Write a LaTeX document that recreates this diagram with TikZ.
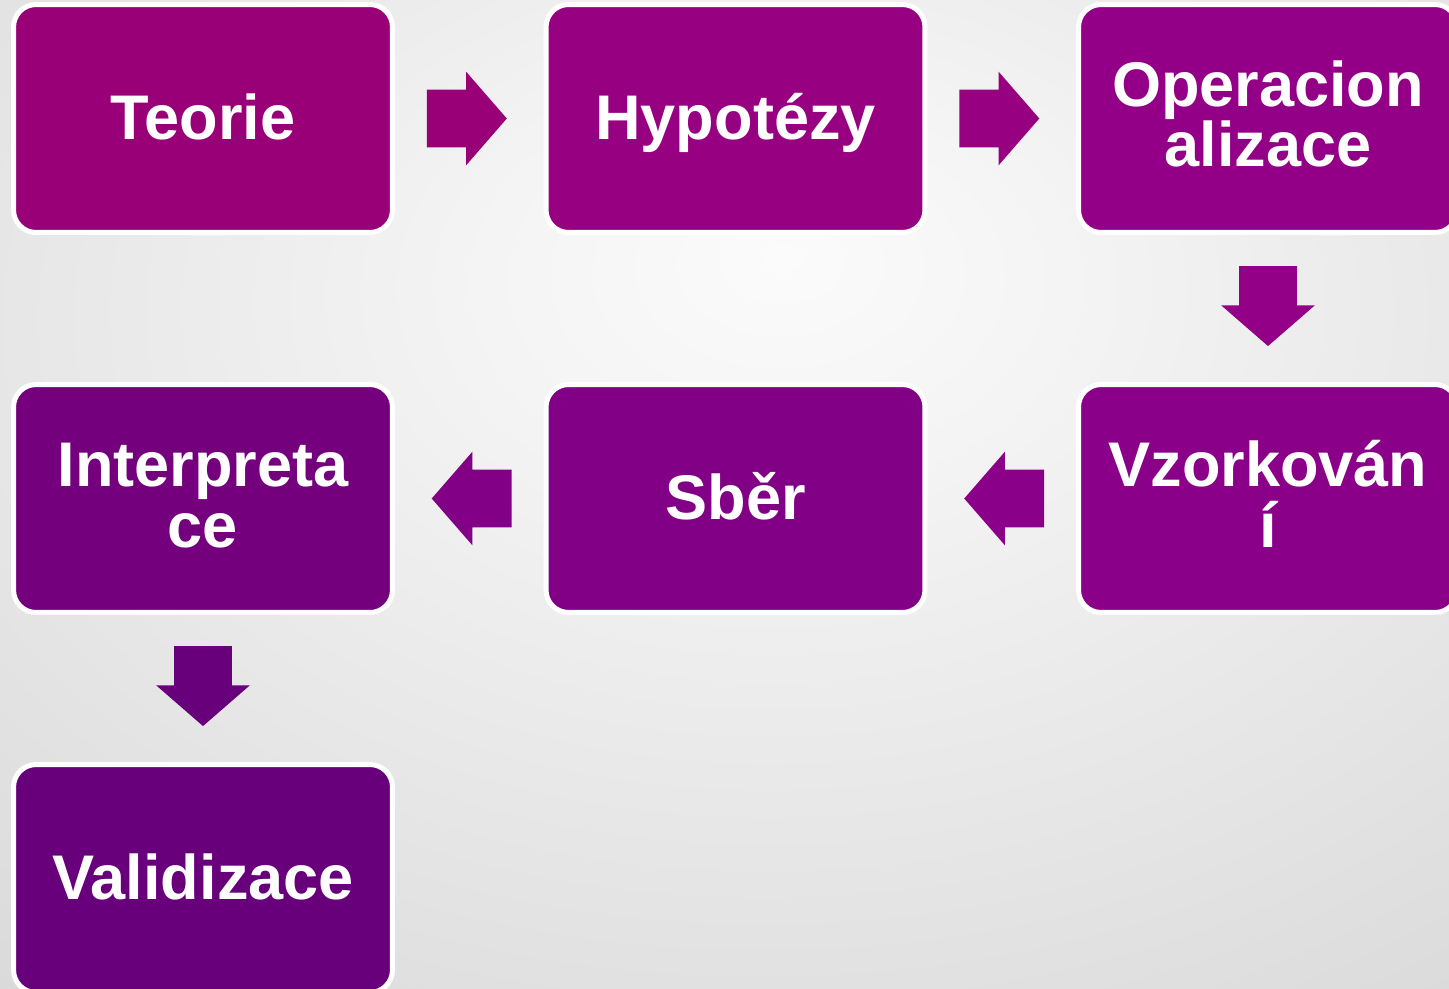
\documentclass[tikz,border=0pt]{standalone}
\usepackage{fontspec}
\setmainfont{Liberation Sans}
\usetikzlibrary{shapes.arrows,calc}

\definecolor{teoriecol}{HTML}{990077}
\definecolor{hypocol}{HTML}{970080}
\definecolor{opercol}{HTML}{930087}
\definecolor{vzorcol}{HTML}{8B0088}
\definecolor{sbercol}{HTML}{820086}
\definecolor{intercol}{HTML}{74007E}
\definecolor{validcol}{HTML}{67007A}

\definecolor{bgA}{HTML}{FBFBFB}
\definecolor{bgB}{HTML}{F4F4F4}
\definecolor{bgC}{HTML}{E6E6E6}
\definecolor{bgD}{HTML}{DBDBDB}
\definecolor{bgE}{HTML}{D2D2D2}
\definecolor{bgF}{HTML}{CBCBCB}
\definecolor{bgG}{HTML}{C5C5C5}
\pgfdeclareradialshading{backshade}{\pgfpoint{2bp}{12bp}}{color(0bp)=(bgA); color(10bp)=(bgB); color(27bp)=(bgC); color(40bp)=(bgD); color(52bp)=(bgE); color(65bp)=(bgF); color(80bp)=(bgG); color(95bp)=(bgG)}

\tikzset{
  box/.style={draw=white, line width=0.1cm, rounded corners=0.45cm,
    minimum width=7.58cm, minimum height=4.56cm, inner sep=0pt,
    text=white, align=center, font=\bfseries\fontsize{35.9}{34.7}\selectfont},
  oneline/.style={text height=0.84cm, text depth=0cm},
  twoline/.style={text height=1.94cm, text depth=0cm},
  arr/.style={single arrow, draw=none, inner xsep=0pt, inner ysep=0.57cm,
    minimum height=1.6cm, minimum width=1.86cm, anchor=tip,
    single arrow head extend=0.36cm, single arrow tip angle=98},
  downarr/.style={arr, inner xsep=0.57cm, inner ysep=0pt, shape border rotate=270},
  leftarr/.style={arr, shape border rotate=180}
}

\begin{document}
\begin{tikzpicture}[x=0.02cm, y=-0.02cm]

  \useasboundingbox (0,0) rectangle (1449,988);
  \clip (0,0) rectangle (1449,988);
  \shade[shading=backshade] (0,0) rectangle (1449,988);

  \node[box, oneline, fill=teoriecol] (teorie)           at (203,118.5)  {Teorie};
  \node[box, oneline, fill=hypocol]   (hypotezy)         at (735.5,118.5) {Hypotézy};
  \node[box, twoline, fill=opercol]   (operacionalizace) at (1268,118.5) {Operacion\\alizace};
  \node[box, twoline, fill=vzorcol]   (vzorkovani)       at (1268,498.5) {Vzorkován\\í};
  \node[box, oneline, fill=sbercol]   (sber)             at (735.5,498.5) {Sběr};
  \node[box, twoline, fill=intercol]  (interpretace)     at (203,498.5)  {Interpreta\\ce};
  \node[box, oneline, fill=validcol]  (validizace)       at (203,878.5)  {Validizace};

  % Arrows
  \node[arr, fill=teoriecol] (teorie-hypo) at ($(teorie.east)!0.5!(hypotezy.west)+(38,0)$) {};
  \node[arr, fill=hypocol]   (hypo-oper)   at ($(hypotezy.east)!0.5!(operacionalizace.west)+(38,0)$) {};
  \node[downarr, fill=opercol]  (oper-vzor)   at ($(operacionalizace.south)!0.5!(vzorkovani.north)+(0,38)$) {};
  \node[leftarr, fill=vzorcol]  (vzor-sber)   at ($(vzorkovani.west)!0.5!(sber.east)+(-38,0)$) {};
  \node[leftarr, fill=sbercol]  (sber-inter)  at ($(sber.west)!0.5!(interpretace.east)+(-38,0)$) {};
  \node[downarr, fill=validcol] (inter-valid) at ($(interpretace.south)!0.5!(validizace.north)+(0,38)$) {};

\end{tikzpicture}
\end{document}
